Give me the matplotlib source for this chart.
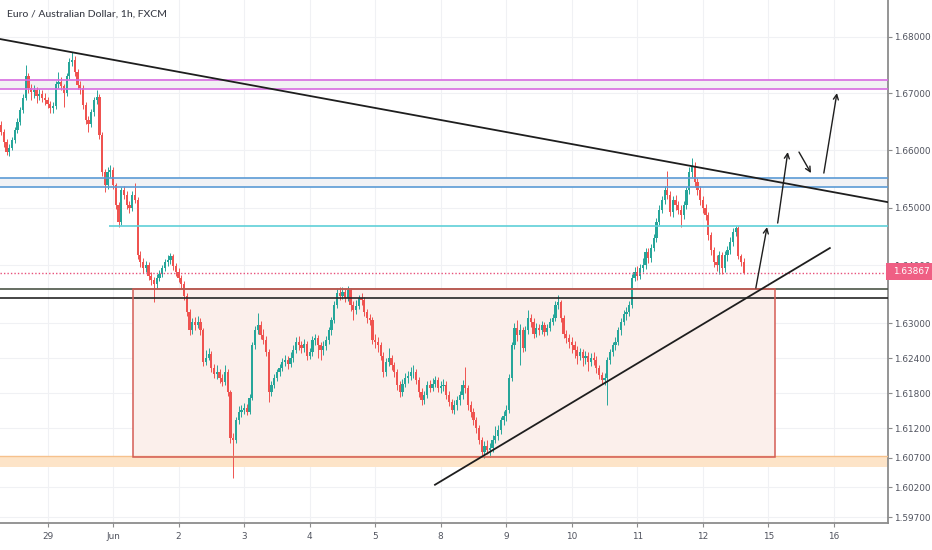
import numpy as np
import matplotlib
matplotlib.use("Agg")
import matplotlib.pyplot as plt
from matplotlib.patches import Rectangle

# hourly EUR/AUD candles, bar 0 = 28 May 07:00 (hour -17 from 29 May 00:00)
FIRST_BAR_HOUR = -17
FIRST_OPEN = 1.6645
CLOSE = [
    1.6632, 1.6614, 1.6597, 1.6604, 1.6618, 1.6635, 1.6649, 1.6671, 1.6692, 1.6730, 1.6709, 1.6702,
    1.6706, 1.6695, 1.6699, 1.6692, 1.6688, 1.6681, 1.6674, 1.6678, 1.6716, 1.6720, 1.6713, 1.6700,
    1.6730, 1.6755, 1.6759, 1.6737, 1.6715, 1.6709, 1.6679, 1.6653, 1.6646, 1.6667, 1.6688, 1.6693,
    1.6627, 1.6562, 1.6539, 1.6562, 1.6565, 1.6539, 1.6504, 1.6475, 1.6530, 1.6522, 1.6504, 1.6499,
    1.6522, 1.6513, 1.6417, 1.6405, 1.6395, 1.6400, 1.6381, 1.6374, 1.6367, 1.6378, 1.6385, 1.6395,
    1.6405, 1.6409, 1.6416, 1.6398, 1.6388, 1.6378, 1.6367, 1.6347, 1.6319, 1.6288, 1.6302, 1.6297,
    1.6302, 1.6288, 1.6233, 1.6240, 1.6247, 1.6223, 1.6213, 1.6216, 1.6206, 1.6199, 1.6216, 1.6182,
    1.6104, 1.6101, 1.6134, 1.6148, 1.6152, 1.6155, 1.6148, 1.6172, 1.6262, 1.6288, 1.6297, 1.6280,
    1.6271, 1.6250, 1.6182, 1.6194, 1.6206, 1.6216, 1.6223, 1.6233, 1.6237, 1.6230, 1.6240, 1.6254,
    1.6268, 1.6262, 1.6257, 1.6264, 1.6244, 1.6250, 1.6271, 1.6275, 1.6262, 1.6254, 1.6261, 1.6271,
    1.6288, 1.6305, 1.6331, 1.6352, 1.6347, 1.6354, 1.6343, 1.6357, 1.6331, 1.6323, 1.6329, 1.6343,
    1.6340, 1.6319, 1.6309, 1.6305, 1.6271, 1.6268, 1.6262, 1.6244, 1.6216, 1.6233, 1.6240, 1.6228,
    1.6216, 1.6194, 1.6182, 1.6196, 1.6206, 1.6209, 1.6216, 1.6216, 1.6203, 1.6182, 1.6168, 1.6177,
    1.6194, 1.6189, 1.6196, 1.6203, 1.6189, 1.6192, 1.6194, 1.6177, 1.6165, 1.6152, 1.6160, 1.6168,
    1.6177, 1.6194, 1.6189, 1.6160, 1.6148, 1.6134, 1.6121, 1.6101, 1.6080, 1.6090, 1.6084, 1.6087,
    1.6101, 1.6107, 1.6118, 1.6134, 1.6141, 1.6152, 1.6206, 1.6262, 1.6292, 1.6280, 1.6288, 1.6257,
    1.6288, 1.6309, 1.6302, 1.6281, 1.6292, 1.6288, 1.6297, 1.6285, 1.6292, 1.6302, 1.6309, 1.6331,
    1.6336, 1.6309, 1.6281, 1.6275, 1.6268, 1.6262, 1.6254, 1.6244, 1.6250, 1.6240, 1.6244, 1.6233,
    1.6240, 1.6237, 1.6223, 1.6211, 1.6203, 1.6206, 1.6237, 1.6250, 1.6262, 1.6268, 1.6288, 1.6302,
    1.6316, 1.6319, 1.6331, 1.6378, 1.6388, 1.6381, 1.6395, 1.6400, 1.6423, 1.6412, 1.6430, 1.6447,
    1.6475, 1.6496, 1.6513, 1.6530, 1.6522, 1.6492, 1.6513, 1.6504, 1.6496, 1.6487, 1.6504, 1.6530,
    1.6562, 1.6572, 1.6544, 1.6530, 1.6513, 1.6499, 1.6487, 1.6452, 1.6426, 1.6405, 1.6400, 1.6417,
    1.6395, 1.6417, 1.6426, 1.6440, 1.6457, 1.6464, 1.6416, 1.6405, 1.63867,
]
HIGH = [
    1.6652, 1.6638, 1.6619, 1.6611, 1.6624, 1.6640, 1.6656, 1.6676, 1.6698, 1.6750, 1.6736, 1.6716,
    1.6714, 1.6712, 1.6707, 1.6706, 1.6700, 1.6694, 1.6686, 1.6685, 1.6722, 1.6738, 1.6728, 1.6717,
    1.6736, 1.6762, 1.6773, 1.6766, 1.6742, 1.6722, 1.6714, 1.6684, 1.6660, 1.6672, 1.6694, 1.6706,
    1.6698, 1.6632, 1.6567, 1.6570, 1.6574, 1.6570, 1.6543, 1.6509, 1.6536, 1.6538, 1.6528, 1.6512,
    1.6528, 1.6543, 1.6518, 1.6424, 1.6412, 1.6408, 1.6406, 1.6389, 1.6380, 1.6384, 1.6392, 1.6401,
    1.6411, 1.6418, 1.6421, 1.6420, 1.6404, 1.6395, 1.6383, 1.6372, 1.6352, 1.6324, 1.6309, 1.6310,
    1.6312, 1.6308, 1.6292, 1.6254, 1.6258, 1.6252, 1.6230, 1.6228, 1.6222, 1.6213, 1.6228, 1.6222,
    1.6186, 1.6112, 1.6140, 1.6158, 1.6160, 1.6163, 1.6162, 1.6178, 1.6268, 1.6295, 1.6317, 1.6304,
    1.6290, 1.6278, 1.6256, 1.6200, 1.6212, 1.6222, 1.6230, 1.6240, 1.6246, 1.6244, 1.6250, 1.6262,
    1.6276, 1.6278, 1.6270, 1.6272, 1.6270, 1.6258, 1.6278, 1.6282, 1.6280, 1.6268, 1.6270, 1.6278,
    1.6294, 1.6311, 1.6338, 1.6360, 1.6362, 1.6362, 1.6360, 1.6364, 1.6360, 1.6338, 1.6340, 1.6349,
    1.6352, 1.6345, 1.6324, 1.6316, 1.6310, 1.6282, 1.6276, 1.6268, 1.6250, 1.6240, 1.6258, 1.6246,
    1.6234, 1.6222, 1.6200, 1.6204, 1.6214, 1.6218, 1.6224, 1.6228, 1.6222, 1.6208, 1.6188, 1.6184,
    1.6200, 1.6202, 1.6206, 1.6210, 1.6208, 1.6200, 1.6204, 1.6200, 1.6184, 1.6170, 1.6168, 1.6176,
    1.6184, 1.6202, 1.6225, 1.6194, 1.6166, 1.6154, 1.6140, 1.6126, 1.6106, 1.6098, 1.6100, 1.6096,
    1.6108, 1.6124, 1.6126, 1.6140, 1.6150, 1.6160, 1.6212, 1.6268, 1.6300, 1.6306, 1.6298, 1.6294,
    1.6295, 1.6323, 1.6316, 1.6308, 1.6300, 1.6298, 1.6304, 1.6302, 1.6299, 1.6308, 1.6316, 1.6338,
    1.6348, 1.6340, 1.6314, 1.6288, 1.6282, 1.6276, 1.6270, 1.6260, 1.6258, 1.6256, 1.6252, 1.6250,
    1.6248, 1.6250, 1.6244, 1.6228, 1.6216, 1.6214, 1.6242, 1.6256, 1.6268, 1.6276, 1.6294, 1.6308,
    1.6322, 1.6328, 1.6338, 1.6384, 1.6396, 1.6398, 1.6402, 1.6412, 1.6430, 1.6430, 1.6436, 1.6454,
    1.6482, 1.6504, 1.6520, 1.6538, 1.6563, 1.6528, 1.6520, 1.6522, 1.6512, 1.6504, 1.6512, 1.6536,
    1.6570, 1.6586, 1.6580, 1.6552, 1.6538, 1.6520, 1.6506, 1.6492, 1.6458, 1.6432, 1.6418, 1.6424,
    1.6422, 1.6424, 1.6434, 1.6448, 1.6464, 1.6468, 1.6468, 1.6420, 1.6412,
]
LOW = [
    1.6626, 1.6606, 1.6591, 1.6590, 1.6600, 1.6613, 1.6630, 1.6645, 1.6666, 1.6688, 1.6700, 1.6688,
    1.6692, 1.6683, 1.6689, 1.6685, 1.6680, 1.6674, 1.6665, 1.6665, 1.6672, 1.6710, 1.6706, 1.6676,
    1.6695, 1.6726, 1.6748, 1.6730, 1.6708, 1.6698, 1.6672, 1.6646, 1.6632, 1.6640, 1.6660, 1.6682,
    1.6620, 1.6555, 1.6527, 1.6532, 1.6553, 1.6533, 1.6497, 1.6466, 1.6470, 1.6515, 1.6497, 1.6490,
    1.6494, 1.6507, 1.6410, 1.6396, 1.6386, 1.6388, 1.6375, 1.6366, 1.6336, 1.6360, 1.6372, 1.6380,
    1.6390, 1.6399, 1.6402, 1.6391, 1.6381, 1.6370, 1.6360, 1.6340, 1.6312, 1.6280, 1.6282, 1.6289,
    1.6292, 1.6280, 1.6226, 1.6228, 1.6236, 1.6217, 1.6206, 1.6205, 1.6198, 1.6192, 1.6194, 1.6176,
    1.6096, 1.6036, 1.6096, 1.6128, 1.6140, 1.6144, 1.6142, 1.6144, 1.6168, 1.6256, 1.6282, 1.6273,
    1.6264, 1.6244, 1.6165, 1.6176, 1.6188, 1.6200, 1.6210, 1.6218, 1.6226, 1.6222, 1.6224, 1.6234,
    1.6248, 1.6254, 1.6248, 1.6250, 1.6236, 1.6238, 1.6244, 1.6262, 1.6240, 1.6236, 1.6246, 1.6254,
    1.6264, 1.6280, 1.6300, 1.6326, 1.6340, 1.6342, 1.6336, 1.6338, 1.6320, 1.6305, 1.6316, 1.6324,
    1.6332, 1.6312, 1.6300, 1.6296, 1.6264, 1.6258, 1.6250, 1.6236, 1.6208, 1.6210, 1.6226, 1.6220,
    1.6208, 1.6186, 1.6174, 1.6176, 1.6190, 1.6198, 1.6202, 1.6206, 1.6196, 1.6174, 1.6160, 1.6162,
    1.6172, 1.6182, 1.6184, 1.6190, 1.6182, 1.6180, 1.6184, 1.6170, 1.6158, 1.6146, 1.6144, 1.6152,
    1.6160, 1.6170, 1.6180, 1.6152, 1.6140, 1.6126, 1.6112, 1.6094, 1.6074, 1.6070, 1.6076, 1.6072,
    1.6080, 1.6096, 1.6100, 1.6110, 1.6126, 1.6132, 1.6146, 1.6200, 1.6256, 1.6270, 1.6228, 1.6250,
    1.6252, 1.6282, 1.6294, 1.6274, 1.6276, 1.6280, 1.6282, 1.6278, 1.6280, 1.6286, 1.6296, 1.6304,
    1.6324, 1.6302, 1.6274, 1.6266, 1.6258, 1.6248, 1.6240, 1.6230, 1.6236, 1.6226, 1.6230, 1.6218,
    1.6226, 1.6228, 1.6214, 1.6204, 1.6196, 1.6194, 1.6160, 1.6230, 1.6244, 1.6254, 1.6262, 1.6280,
    1.6296, 1.6306, 1.6312, 1.6326, 1.6372, 1.6374, 1.6376, 1.6388, 1.6394, 1.6404, 1.6406, 1.6424,
    1.6440, 1.6470, 1.6490, 1.6506, 1.6514, 1.6486, 1.6484, 1.6496, 1.6488, 1.6466, 1.6480, 1.6498,
    1.6524, 1.6554, 1.6536, 1.6522, 1.6504, 1.6490, 1.6478, 1.6444, 1.6418, 1.6396, 1.6390, 1.6384,
    1.6384, 1.6388, 1.6408, 1.6420, 1.6434, 1.6450, 1.6410, 1.6398, 1.6384,
]

DAY_LABELS = ["29", "Jun", "2", "3", "4", "5", "8", "9", "10", "11", "12", "15", "16"]
PRICE_TICKS = [1.68, 1.67, 1.66, 1.65, 1.64, 1.63, 1.624, 1.618, 1.612, 1.607, 1.602, 1.597]
LAST_PRICE = 1.63867

# drawn levels (prices)
VIOLET_BAND = (1.67075, 1.67234)
BLUE_BAND = (1.65351, 1.65509)
CYAN_LEVEL = 1.64678
DARK_LEVELS = (1.63582, 1.63427)
BOX_PRICES = (1.60717, 1.63582)
ORANGE_BAND = (1.60552, 1.60734)

# drawings in (bar hour, price)
DOWN_TREND = [(-17.4, 1.67959), (307.7, 1.65094)]
UP_TREND = [(141.9, 1.60244), (286.5, 1.64296)]
BOX_BARS = (31.3, 266.4)
CYAN_START = 22.5
ARROWS = [
    ((259.4, 1.63605), (263.5, 1.64660)),
    ((267.4, 1.64730), (271.1, 1.65968)),
    ((275.2, 1.65968), (279.6, 1.65601)),
    ((284.3, 1.65601), (289.1, 1.67004)),
]

UP_COL = "#26a69a"
DOWN_COL = "#ef5350"
TXT_COL = "#50535e"
XMIN, XMAX = -17.4, 307.8
YMIN, YMAX = 1.59604, 1.68652

plt.rcParams["font.family"] = ["DejaVu Sans"]

fig = plt.figure(figsize=(9.32, 5.5), dpi=100)
ax = fig.add_axes([0, 27.3 / 550, 888 / 932, 522.7 / 550])
ax.set_yscale("log")
ax.set_xlim(XMIN, XMAX)
ax.set_ylim(YMIN, YMAX)

close = np.array(CLOSE)
high = np.array(HIGH)
low = np.array(LOW)
opn = np.concatenate([[FIRST_OPEN], close[:-1]])
x = np.arange(len(close)) + FIRST_BAR_HOUR
up = close >= opn
cols = np.where(up, UP_COL, DOWN_COL)

# zones behind candles
ax.axhspan(*VIOLET_BAND, color="#f1f1f3", lw=0, zorder=1)
ax.axhspan(*BLUE_BAND, color="#f1f2f5", lw=0, zorder=1)
ax.add_patch(Rectangle((BOX_BARS[0], BOX_PRICES[0]), BOX_BARS[1] - BOX_BARS[0],
                       BOX_PRICES[1] - BOX_PRICES[0], fc="#fbefeb", ec="none", zorder=1))
ax.axhspan(*ORANGE_BAND, color="#fde4c8", lw=0, zorder=1)

# candles
ax.vlines(x, low, high, colors=cols, lw=0.7, zorder=3)
ax.bar(x, close - opn, bottom=opn, width=0.82, color=cols, lw=0, zorder=4)

# levels
for p in VIOLET_BAND:
    ax.axhline(p, color="#d76be0", lw=1.2, zorder=5)
for p in BLUE_BAND:
    ax.axhline(p, color="#5b9bd5", lw=1.2, zorder=5)
ax.hlines(CYAN_LEVEL, CYAN_START, XMAX, color="#5fd0d8", lw=1.2, zorder=5)
ax.axhline(DARK_LEVELS[0], color="#4b5548", lw=1.2, zorder=5)
ax.axhline(DARK_LEVELS[1], color="#262626", lw=1.2, zorder=5)
ax.axhline(ORANGE_BAND[1], color="#f6c18c", lw=1.0, zorder=5)
ax.add_patch(Rectangle((BOX_BARS[0], BOX_PRICES[0]), BOX_BARS[1] - BOX_BARS[0],
                       BOX_PRICES[1] - BOX_PRICES[0], fc="none", ec="#d45c55", lw=1.1, zorder=6))
ax.axhline(LAST_PRICE, color="#e8507a", lw=1.0, ls=(0, (1, 1.5)), zorder=6)

# trend lines and arrows
ax.plot(*zip(*DOWN_TREND), color="#1e1e1e", lw=1.3, zorder=7)
ax.plot(*zip(*UP_TREND), color="#1e1e1e", lw=1.3, zorder=7)
for start, end in ARROWS:
    ax.annotate("", xy=end, xytext=start,
                arrowprops=dict(arrowstyle="->", color="#1e1e1e", lw=1.0,
                                shrinkA=0, shrinkB=0, mutation_scale=9), zorder=8)

# axes styling
ax.set_facecolor("white")
for s in ["left", "top"]:
    ax.spines[s].set_visible(False)
for s in ["right", "bottom"]:
    ax.spines[s].set_color("#8c8c8c")
    ax.spines[s].set_linewidth(1.3)
ax.yaxis.tick_right()
ax.set_yticks(PRICE_TICKS)
ax.set_yticklabels([f"{p:.5f}" for p in PRICE_TICKS])
ax.yaxis.set_minor_locator(matplotlib.ticker.NullLocator())
ax.set_xticks(np.arange(len(DAY_LABELS)) * 24)
ax.set_xticklabels(DAY_LABELS)
ax.tick_params(axis="y", length=3, width=0.8, color="#8c8c8c", pad=1.5,
               labelsize=6.4, labelcolor=TXT_COL)
ax.tick_params(axis="x", length=3, width=0.8, color="#8c8c8c", pad=4,
               labelsize=6.4, labelcolor=TXT_COL)
ax.grid(True, color="#f0f1f4", lw=0.8, zorder=0)
ax.set_axisbelow(True)

ax.text(0.008, 0.972, "Euro / Australian Dollar, 1h, FXCM", transform=ax.transAxes,
        fontsize=7.5, color="#3a3d47", va="center", ha="left", zorder=9,
        family=["Lato", "DejaVu Sans"], fontweight="medium")

# last price badge (covers the 1.64000 label as in the original)
fig.add_artist(Rectangle((886 / 932, 1 - 280 / 550), 46 / 932, 17 / 550,
                         transform=fig.transFigure, fc="#ef5f84", ec="none", zorder=10))
fig.text(893 / 932, 1 - 271.5 / 550, f"{LAST_PRICE:.5f}", color="white", fontsize=6.4,
         va="center", ha="left", zorder=11)

fig.savefig("out.png", dpi=100, facecolor="white")
